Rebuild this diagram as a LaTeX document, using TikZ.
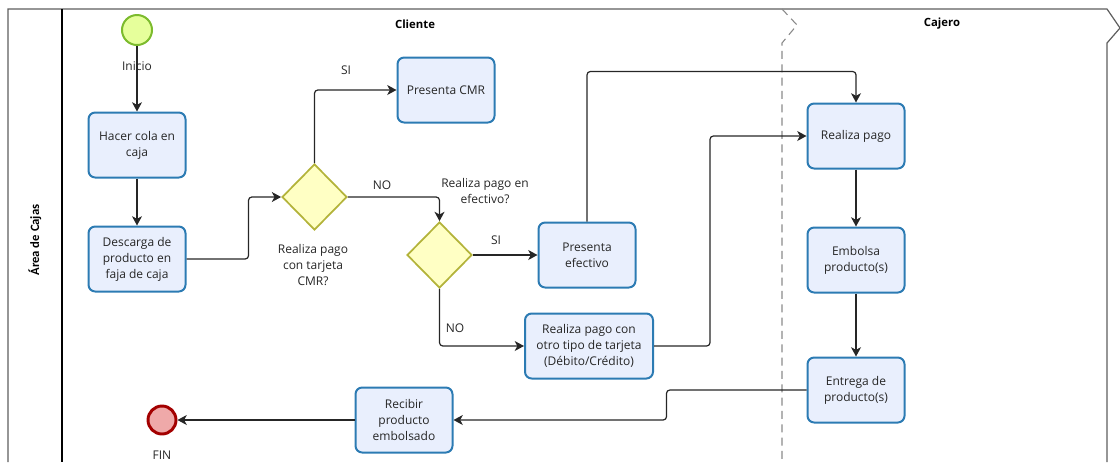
\documentclass[tikz,border=0pt]{standalone}
\usepackage{fontspec}
\setmainfont{Open Sans}
\newfontfamily\poolfont{Carlito}
\usetikzlibrary{shapes.geometric,arrows.meta}

\definecolor{taskfill}{HTML}{E9EFFD}
\definecolor{taskline}{HTML}{2C7BB3}
\definecolor{gwfill}{HTML}{FFFFC4}
\definecolor{gwline}{HTML}{B3B33A}
\definecolor{startfill}{HTML}{E6FF9B}
\definecolor{startline}{HTML}{7CBB2D}
\definecolor{endfill}{HTML}{EFA9A9}
\definecolor{endline}{HTML}{A30000}
\definecolor{poolline}{HTML}{5E5E5E}
\definecolor{laneline}{HTML}{8A8A8A}

\tikzset{
  txt/.style={font=\fontsize{9}{12}\selectfont, align=center, text=black!85},
  task/.style={txt, draw=taskline, fill=taskfill, line width=1.5pt,
    rounded corners=5pt, minimum width=72.75pt, minimum height=48.75pt,
    inner sep=1pt},
  widetask/.style={task, minimum width=96pt},
  gateway/.style={diamond, draw=gwline, fill=gwfill, line width=1.3pt,
    minimum width=48.75pt, minimum height=49.5pt, inner sep=0pt},
  startev/.style={circle, draw=startline, fill=startfill, line width=1.5pt,
    minimum size=22.5pt, inner sep=0pt},
  endev/.style={circle, draw=endline, fill=endfill, line width=2.2pt,
    minimum size=21pt, inner sep=0pt},
  flow/.style={draw=black!85, line width=0.9pt, rounded corners=2.5pt,
    -{Stealth[length=7pt,width=7.5pt,inset=2pt]}},
  lbl/.style={txt, inner sep=0pt},
  lanetitle/.style={font=\fontsize{8.5}{10}\selectfont\bfseries, inner sep=0pt},
  pooltitle/.style={font=\poolfont\fontsize{9.5}{11}\selectfont\bfseries, rotate=90, inner sep=0pt},
}

\begin{document}
\begin{tikzpicture}[x=0.75pt, y=-0.75pt]
\useasboundingbox (0,0) rectangle (1120,462);

% pool frame with torn right edge
\draw[poolline, line width=0.9pt] (8,462) -- (8,9) -- (1107,9) -- (1120,28) -- (1107,43) -- (1107,462);
\draw[black, line width=0.8pt] (62,9) -- (62,462);
% lane separator
\draw[laneline, line width=0.8pt, dash pattern=on 6pt off 4pt] (782,9) -- (797,25) -- (782,43) -- (782,462);

\node[pooltitle] (pool) at (35,240) {Área de Cajas};
\node[lanetitle] (lane1) at (415,24) {Cliente};
\node[lanetitle] (lane2) at (942,24) {Cajero};

% events
\node[startev] (start) at (137,30) {};
\node[endev] (fin) at (162,420) {};

% tasks
\node[task] (cola) at (137,145) {Hacer cola en\\caja};
\node[task] (desc) at (137,259) {Descarga de\\producto en\\faja de caja};
\node[task] (cmr) at (446,90) {Presenta CMR};
\node[task] (efe) at (587,255) {Presenta\\efectivo};
\node[widetask] (otro) at (589,346) {Realiza pago con\\otro tipo de tarjeta\\(Débito/Crédito)};
\node[task] (pago) at (856,136) {Realiza pago};
\node[task] (emb) at (856,260) {Embolsa\\producto(s)};
\node[task] (ent) at (856,390) {Entrega de\\producto(s)};
\node[task] (rec) at (404,420) {Recibir\\producto\\embolsado};

% gateways
\node[gateway] (gw1) at (314.5,197) {};
\node[gateway] (gw2) at (439.5,255) {};

% flows
\draw[flow] (start) -- (cola);
\draw[flow] (cola) -- (desc);
\draw[flow] (desc.east) -- ++(62,0) |- (gw1.west);
\draw[flow] (gw1.north) |- (cmr.west);
\draw[flow] (gw1.east) -| (gw2.north);
\draw[flow] (gw2.east) -- (efe.west);
\draw[flow] (gw2.south) |- (otro.west);
\draw[flow] (efe.north) -- ++(0,-150) -| (pago.north);
\draw[flow] (otro.east) -- ++(56,0) |- (pago.west);
\draw[flow] (pago) -- (emb);
\draw[flow] (emb) -- (ent);
\draw[flow] (ent.west) -- ++(-140,0) |- (rec.east);
\draw[flow] (rec) -- (fin);

% labels
\node[lbl] (linicio) at (137,66) {Inicio};
\node[lbl] (lfin) at (162,455) {FIN};
\node[lbl] (lsi1) at (346,70) {SI};
\node[lbl] (lno1) at (382,185) {NO};
\node[lbl] (lsi2) at (496,240) {SI};
\node[lbl] (lno2) at (455,328) {NO};
\node[lbl] (lgw1) at (313,265) {Realiza pago\\con tarjeta\\CMR?};
\node[lbl] (lgw2) at (485,191) {Realiza pago en\\efectivo?};
\end{tikzpicture}
\end{document}
